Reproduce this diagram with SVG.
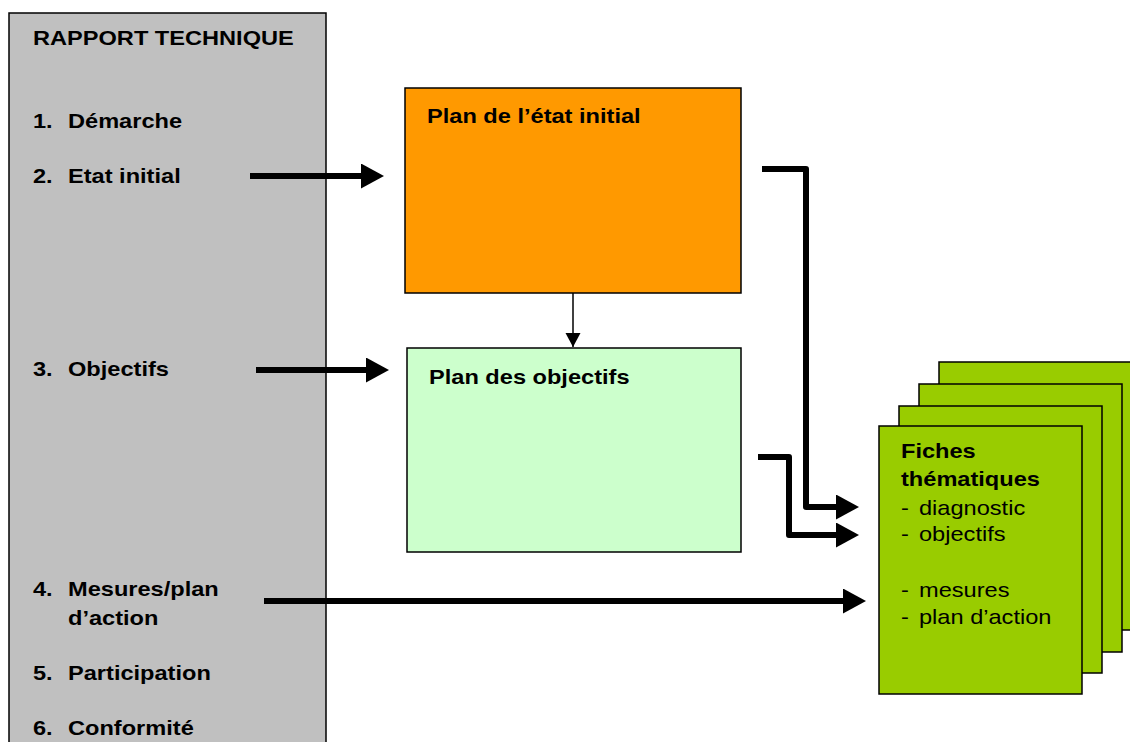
<svg xmlns="http://www.w3.org/2000/svg" width="1130" height="742" viewBox="0 0 1130 742">
  <style>
    .box { stroke: #000; stroke-width: 1.5; }
    .h { font-family: "Liberation Sans", Arial, sans-serif; font-size: 20px; font-weight: bold; fill: #000; }
    .t { font-family: "Liberation Sans", Arial, sans-serif; font-size: 20px; fill: #000; }
    .thick { fill: none; stroke: #000; stroke-width: 6; stroke-linejoin: round; }
    .thin { fill: none; stroke: #000; stroke-width: 1.5; }
  </style>
  <defs>
    <marker id="bigHead" markerUnits="userSpaceOnUse" markerWidth="24" markerHeight="26" refX="0" refY="12.5" orient="auto">
      <path d="M0,0 L23,12.5 L0,25 z" fill="#000"/>
    </marker>
    <marker id="smallHead" markerUnits="userSpaceOnUse" markerWidth="16" markerHeight="16" refX="14" refY="7.5" orient="auto">
      <path d="M0,0 L14,7.5 L0,15 z" fill="#000"/>
    </marker>
  </defs>
  <rect width="1130" height="742" fill="#fff"/>

  <!-- left column: report outline (labels set in a slightly widened face) -->
  <g id="rapport">
    <rect class="box" x="9" y="13" width="317" height="750" fill="#C0C0C0"/>
    <text class="h" transform="translate(33,45) scale(1.18,1)">RAPPORT TECHNIQUE</text>
    <text class="h" transform="translate(33,128) scale(1.18,1)">1.</text><text class="h" transform="translate(68,128) scale(1.18,1)">Démarche</text>
    <text class="h" transform="translate(33,183) scale(1.18,1)">2.</text><text class="h" transform="translate(68,183) scale(1.18,1)">Etat initial</text>
    <text class="h" transform="translate(33,376) scale(1.18,1)">3.</text><text class="h" transform="translate(68,376) scale(1.18,1)">Objectifs</text>
    <text class="h" transform="translate(33,596) scale(1.18,1)">4.</text><text class="h" transform="translate(68,596) scale(1.18,1)">Mesures/plan</text>
    <text class="h" transform="translate(68,625) scale(1.18,1)">d’action</text>
    <text class="h" transform="translate(33,680) scale(1.18,1)">5.</text><text class="h" transform="translate(68,680) scale(1.18,1)">Participation</text>
    <text class="h" transform="translate(33,735) scale(1.18,1)">6.</text><text class="h" transform="translate(68,735) scale(1.18,1)">Conformité</text>
  </g>

  <g id="etat-initial">
    <rect class="box" x="405" y="88" width="336" height="205" fill="#FF9900"/>
    <text class="h" transform="translate(427,123) scale(1.18,1)">Plan de l’état initial</text>
  </g>

  <g id="objectifs">
    <rect class="box" x="407" y="348" width="334" height="204" fill="#CCFFCC"/>
    <text class="h" transform="translate(429,384) scale(1.18,1)">Plan des objectifs</text>
  </g>

  <!-- stack of theme sheets, back to front -->
  <g id="fiches">
    <rect class="box" x="939" y="362" width="210" height="268" fill="#99CC00"/>
    <rect class="box" x="919" y="384" width="203" height="268" fill="#99CC00"/>
    <rect class="box" x="899" y="406" width="203" height="267" fill="#99CC00"/>
    <rect class="box" x="879" y="426" width="203" height="268" fill="#99CC00"/>
    <text class="h" transform="translate(901,458) scale(1.18,1)">Fiches</text>
    <text class="h" transform="translate(901,486) scale(1.18,1)">thématiques</text>
    <text class="t" transform="translate(901,515) scale(1.18,1)">-</text><text class="t" transform="translate(919,515) scale(1.18,1)">diagnostic</text>
    <text class="t" transform="translate(901,541) scale(1.18,1)">-</text><text class="t" transform="translate(919,541) scale(1.18,1)">objectifs</text>
    <text class="t" transform="translate(901,597) scale(1.18,1)">-</text><text class="t" transform="translate(919,597) scale(1.18,1)">mesures</text>
    <text class="t" transform="translate(901,624) scale(1.18,1)">-</text><text class="t" transform="translate(919,624) scale(1.18,1)">plan d’action</text>
  </g>

  <g id="connectors">
    <path class="thick" d="M250,176 H361" marker-end="url(#bigHead)"/>
    <path class="thick" d="M256,370 H366" marker-end="url(#bigHead)"/>
    <path class="thick" d="M264,601 H843" marker-end="url(#bigHead)"/>
    <path class="thick" d="M762,169 H806 V507 H836" marker-end="url(#bigHead)"/>
    <path class="thick" d="M758,457 H789 V535 H836" marker-end="url(#bigHead)"/>
    <path class="thin" d="M573,293 V347" marker-end="url(#smallHead)"/>
  </g>
</svg>
